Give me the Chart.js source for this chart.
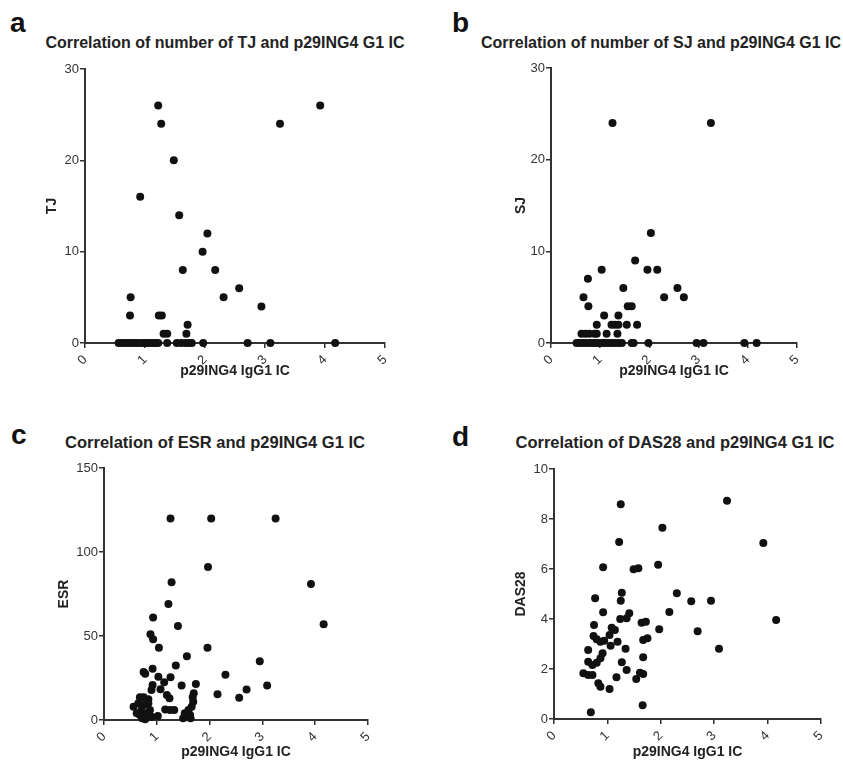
<!DOCTYPE html>
<html>
<head>
<meta charset="utf-8">
<script src="https://cdn.jsdelivr.net/npm/chart.js@4.4.0/dist/chart.umd.min.js"></script>
<style>
  body{margin:0;background:#fff;width:843px;height:761px;position:relative;overflow:hidden;font-family:"Liberation Sans",Arial,sans-serif;}
  .cv{position:absolute;}
  .letter{position:absolute;font-weight:bold;font-size:28px;line-height:1;color:#111;}
  .title{position:absolute;font-weight:bold;font-size:16.5px;line-height:1;color:#222;white-space:nowrap;transform:translateX(-50%);}
  .t16{font-size:16px;}
</style>
</head>
<body>
<div class="letter" style="left:10px;top:9px;">a</div>
<div class="letter" style="left:452px;top:9px;">b</div>
<div class="letter" style="left:11px;top:421px;">c</div>
<div class="letter" style="left:452px;top:423px;">d</div>
<div class="title t16" style="left:225px;top:35px;">Correlation of number of TJ and p29ING4 G1 IC</div>
<div class="title t16" style="left:661px;top:35px;">Correlation of number of SJ and p29ING4 G1 IC</div>
<div class="title" style="left:215px;top:434px;">Correlation of ESR and p29ING4 G1 IC</div>
<div class="title" style="left:675px;top:434px;">Correlation of DAS28 and p29ING4 G1 IC</div>
<canvas id="cA" class="cv" width="420" height="380" style="left:0;top:0;"></canvas>
<canvas id="cB" class="cv" width="423" height="380" style="left:420px;top:0;"></canvas>
<canvas id="cC" class="cv" width="420" height="381" style="left:0;top:380px;"></canvas>
<canvas id="cD" class="cv" width="423" height="381" style="left:420px;top:380px;"></canvas>
<script>
// ---- shared x axis ----
const xAxisTitle = 'p29ING4 IgG1 IC';
const xTickValues = [0, 1, 2, 3, 4, 5];

// ---- panel a: TJ ----
const tjX = [1.22,1.27,3.92,3.25,1.48,0.92,1.57,2.04,1.96,1.63,2.17,2.57,2.31,0.76,2.94,0.75,1.23,1.28,1.71,1.31,1.37,1.69,
  0.56,0.62,0.67,0.72,0.77,0.82,0.87,0.93,0.98,1.03,1.08,1.13,1.18,1.22,1.37,1.53,1.60,1.67,1.73,1.78,1.97,2.71,3.09,4.17];
const tjY = [26,24,26,24,20,16,14,12,10,8,8,6,5,5,4,3,3,3,2,1,1,1,
  0,0,0,0,0,0,0,0,0,0,0,0,0,0,0,0,0,0,0,0,0,0,0,0];
const tjTicks = [0, 10, 20, 30];

// ---- panel b: SJ ----
const sjX = [1.25,3.25,2.03,1.71,1.03,1.96,2.16,0.75,1.47,2.57,0.66,2.30,2.70,0.76,1.56,1.64,1.08,1.37,0.93,1.23,1.30,1.37,1.54,1.75,
  0.62,0.70,0.78,0.88,0.93,1.13,1.35,
  0.52,0.58,0.64,0.70,0.76,0.82,0.88,0.94,1.00,1.06,1.12,1.18,1.24,1.30,1.37,1.44,1.64,1.68,1.98,2.96,3.10,3.93,4.18];
const sjY = [24,24,12,9,8,8,8,7,6,6,5,5,5,4,4,4,3,3,2,2,2,2,2,2,
  1,1,1,1,1,1,1,
  0,0,0,0,0,0,0,0,0,0,0,0,0,0,0,0,0,0,0,0,0,0,0];
const sjTicks = [0, 10, 20, 30];

// ---- panel c: ESR ----
const esrX = [1.26,2.03,3.25,1.97,1.28,3.92,1.22,0.93,1.40,4.16,0.88,0.93,1.04,1.96,1.57,2.95,1.36,0.92,0.75,0.78,2.30,1.03,1.26,1.14,1.74,
  0.92,1.47,3.09,1.07,2.70,0.90,1.70,2.15,1.19,1.68,2.56,1.24,0.84,0.68,0.75,0.56,0.65,0.75,0.84,0.71,0.87,0.68,0.81,0.90,0.62,
  1.02,1.16,1.25,1.33,1.53,1.60,1.63,1.66,1.69,1.57,1.64,1.50,0.72,0.78];
const esrY = [120,120,120,91,82,81,69,61,56,57,51,48,43,43,38,35,32.5,30.5,28.5,27.6,27,25.8,25.5,22.4,21.4,
  20.8,20.5,20.6,18.3,18.2,17.9,15.9,15.3,14.9,13.5,13.3,12.9,12.3,13.5,13.5,7.9,9.9,8.9,9.9,6,6,3,4,2,4,
  2.4,6.3,6,6,4,6,3,7.9,10.9,2,1,1,1,0.5];
const esrTicks = [0, 50, 100, 150];

// ---- panel d: DAS28 ----
const dasX = [1.25,3.24,2.03,1.22,3.92,0.92,1.49,1.58,1.95,1.27,2.30,0.77,1.25,2.57,2.94,0.92,2.16,1.24,1.36,1.41,4.16,1.64,1.72,0.75,1.08,
  1.14,1.97,2.69,0.74,0.80,0.87,0.94,1.04,1.19,1.67,1.75,1.06,1.34,3.09,0.64,0.91,0.87,1.67,0.64,0.72,0.80,1.27,1.36,0.55,0.64,
  0.72,1.61,1.67,1.17,1.54,0.83,0.87,1.04,1.66,0.69];
const dasY = [8.59,8.73,7.65,7.08,7.04,6.07,5.99,6.03,6.17,5.05,5.03,4.83,4.73,4.71,4.73,4.27,4.28,4.0,4.03,4.23,3.96,3.85,3.89,3.76,3.65,
  3.56,3.59,3.51,3.32,3.19,3.09,3.13,3.36,3.09,3.16,3.23,2.93,2.81,2.81,2.76,2.63,2.43,2.47,2.29,2.16,2.25,2.27,1.96,1.83,1.76,
  1.76,1.85,1.80,1.67,1.60,1.43,1.29,1.20,0.55,0.27];
const dasTicks = [0, 2, 4, 6, 8, 10];

Chart.defaults.font.family = '"Liberation Sans", Arial, Helvetica, sans-serif';

function makeChart(id, xs, ys, yTicks, yTitle, pad, yWidth, xHeight) {
  const points = xs.map((x, i) => ({x: x, y: ys[i]}));
  return new Chart(document.getElementById(id), {
    type: 'scatter',
    data: {datasets: [{data: points, backgroundColor: '#111', borderColor: '#111', borderWidth: 0,
      pointRadius: 4, pointHoverRadius: 4, clip: false}]},
    options: {
      responsive: false, animation: false, events: [],
      layout: {padding: pad},
      plugins: {legend: {display: false}, tooltip: {enabled: false}},
      scales: {
        x: {
          type: 'linear', min: xTickValues[0], max: xTickValues[xTickValues.length - 1],
          afterBuildTicks: s => { s.ticks = xTickValues.map(v => ({value: v})); },
          ticks: {minRotation: 45, maxRotation: 45, font: {size: 13}, color: '#333', padding: 4},
          grid: {drawOnChartArea: false, drawTicks: true, tickLength: 5, color: '#333', lineWidth: 1.5},
          border: {display: true, color: '#333', width: 2},
          title: {display: true, text: xAxisTitle, font: {size: 14, weight: 'bold'}, color: '#222', padding: {top: 0, bottom: 0}},
          afterFit: s => { s.height = xHeight; }
        },
        y: {
          type: 'linear', min: yTicks[0], max: yTicks[yTicks.length - 1],
          afterBuildTicks: s => { s.ticks = yTicks.map(v => ({value: v})); },
          ticks: {font: {size: 13}, color: '#333', padding: 1},
          grid: {drawOnChartArea: false, drawTicks: true, tickLength: 5, color: '#333', lineWidth: 1.5},
          border: {display: true, color: '#333', width: 2},
          title: {display: true, text: yTitle, font: {size: 14, weight: 'bold'}, color: '#222', padding: {top: 4, bottom: 4}},
          afterFit: s => { s.width = yWidth; }
        }
      }
    }
  });
}

makeChart('cA', tjX, tjY, tjTicks, 'TJ', {left: 40, right: 35, top: 69, bottom: 0}, 45, 37);
makeChart('cB', sjX, sjY, sjTicks, 'SJ', {left: 89, right: 46, top: 68, bottom: 0}, 42, 37);
makeChart('cC', esrX, esrY, esrTicks, 'ESR', {left: 52, right: 52, top: 88, bottom: 0}, 52, 41);
makeChart('cD', dasX, dasY, dasTicks, 'DAS28', {left: 89, right: 22, top: 89, bottom: 0}, 45, 42);
</script>
</body>
</html>
